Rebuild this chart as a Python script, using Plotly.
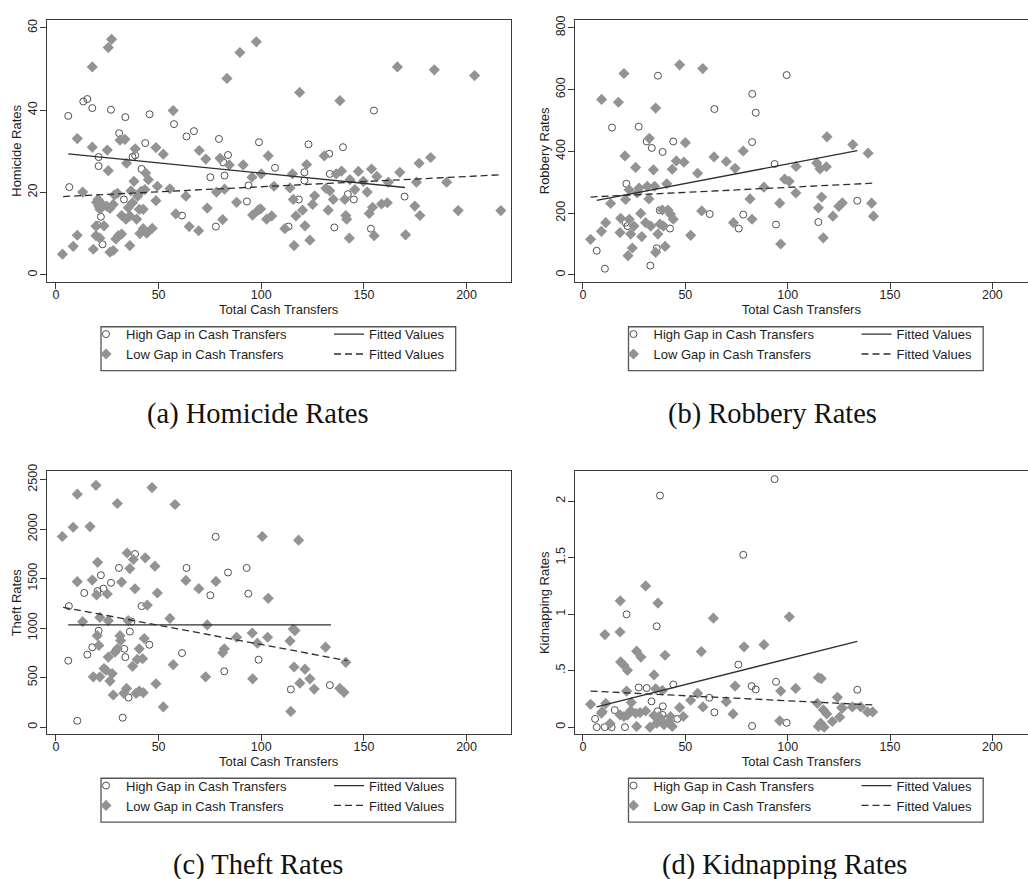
import plotly.graph_objects as go

W, H = 1028, 879

# ---------------- data ----------------
# (a) Homicide rates
hom_high_x = [6, 6.5, 13.3, 15.3, 17.7, 26.8, 33.8, 30.8, 20.8, 20.8,
              21.9, 20.3, 22.7, 33.1, 37.3, 38.6, 41.7, 43.5, 45.6, 57.5,
              63.6, 67.2, 61.4, 75.2, 79.4, 82.1, 83.8, 81.5, 77.9, 93,
              93.8, 98.9, 106.7, 113.3, 118.3, 121, 121, 123, 133.1, 133.4,
              135.6, 139.8, 142.2, 145.1, 154.9, 153.4, 169.8]
hom_high_y = [38.6, 21.3, 42.1, 42.7, 40.5, 40.1, 38.3, 34.4, 28.6, 26.4,
              14.1, 12.1, 7.4, 18.3, 28.6, 29.0, 25.7, 32.0, 39.0, 36.6,
              33.6, 34.9, 14.4, 23.7, 33.0, 24.1, 29.1, 27.3, 11.7, 17.8,
              21.7, 32.2, 26.0, 11.7, 18.3, 24.9, 22.9, 31.7, 29.4, 24.5,
              11.5, 31.0, 19.6, 18.3, 39.9, 11.2, 19.0]
hom_low_x = [3.2, 8.4, 10.4, 10.4, 13, 17.7, 17.7, 18.2, 19.8, 20.8,
             21.4, 19.5, 21.4, 23.4, 25, 25.5, 25.5, 27.1, 24.7, 26.3,
             27.9, 26.3, 27.9, 29.2, 30.4, 32, 31.2, 33.6, 32, 34.1,
             34.4, 35.2, 36, 36, 37.3, 38, 38.6, 39.3, 39.8, 40.6,
             40.9, 42.5, 42.5, 43.3, 43.7, 44.2, 45, 46.9, 48.7, 48.7,
             49.4, 52.3, 55.5, 57.1, 58.4, 63.3, 64.9, 69.5, 69.8, 73,
             73.7, 78.2, 79.9, 81.2, 82.1, 83.3, 84.4, 88, 89.6, 91.2,
             95.5, 95.8, 97.6, 98.5, 99.7, 100, 102.6, 103.4, 105.1, 106.2,
             111.5, 114, 115.2, 116, 116.9, 115.6, 118.7, 120.1, 121.3, 122.1,
             123.7, 125, 126, 130.7, 131.5, 132.6, 133.4, 135.1, 136.5, 138.3,
             139.1, 140.7, 141.2, 141.6, 142.9, 143.2, 145.6, 147.3, 149.7, 151.6,
             152.6, 153.7, 154.2, 155, 156.3, 158.6, 161.4, 161.9, 166.3, 167.5,
             170.3, 174.8, 175.6, 176.9, 177.3, 182.5, 184.3, 190.3, 195.9, 203.9,
             216.7, 20.5, 22, 28.5, 30, 36.5, 41.5, 19.5]
hom_low_y = [5.0, 6.9, 9.6, 33.1, 20.1, 50.5, 31.0, 6.2, 17.6, 16.7,
             15.9, 9.5, 8.9, 11.9, 30.3, 25.3, 55.2, 57.2, 16.7, 16.1,
             17.1, 5.5, 5.9, 8.7, 9.5, 9.9, 32.7, 32.9, 14.4, 13.5,
             27.1, 16.3, 7.1, 14.3, 17.5, 22.7, 30.6, 13.5, 19.1, 15.9,
             10.0, 11.2, 15.9, 20.7, 24.7, 10.1, 23.1, 11.3, 30.9, 18.0,
             21.5, 29.3, 20.9, 39.9, 14.8, 19.1, 11.7, 10.7, 30.2, 28.1,
             16.2, 20.1, 28.3, 13.4, 20.8, 47.7, 26.7, 17.6, 54.0, 26.7,
             23.7, 14.5, 56.6, 15.7, 16.0, 24.5, 13.5, 28.9, 14.3, 21.5,
             11.2, 21.1, 24.5, 7.1, 14.3, 18.3, 44.3, 15.7, 11.9, 26.8,
             8.4, 17.1, 19.2, 28.9, 21.0, 15.7, 20.4, 18.3, 24.5, 42.3,
             25.2, 18.3, 14.4, 13.5, 8.9, 23.1, 20.7, 25.1, 22.7, 20.1,
             14.9, 25.7, 16.4, 9.5, 23.9, 17.2, 17.5, 22.5, 50.5, 24.9,
             9.7, 16.7, 22.5, 27.1, 14.4, 28.5, 49.8, 22.5, 15.6, 48.4,
             15.6, 18.3, 17.4, 19.4, 19.8, 20.4, 20.3, 11.8]
hom_fit_high_x = [6, 170]
hom_fit_high_y = [29.4, 21.2]
hom_fit_low_x = [3.5, 217]
hom_fit_low_y = [19.0, 24.3]

# (b) Robbery rates
rob_high_x = [6.7, 10.7, 14.2, 21.2, 20.8, 21.7, 27.2, 31.1, 33.6, 32.9,
              36, 36.6, 37.5, 38.9, 42.5, 44.1, 61.9, 64.2, 76.1, 78.3,
              82.6, 82.7, 84.4, 93.6, 94.3, 99.5, 115, 134]
rob_high_y = [78, 20, 477, 295, 169, 158, 480, 432, 411, 30,
              86, 645, 209, 398, 150, 432, 197, 537, 150, 195,
              430, 586, 525, 359, 163, 647, 171, 240]
rob_low_x = [3.7, 9.1, 9, 11.1, 13.5, 17.3, 18.1, 18.4, 20, 20.5,
             20.8, 22, 22.5, 22.6, 23.3, 24.1, 24.9, 25.7, 26.5, 27.4,
             28.2, 28.7, 30.6, 31.4, 32.4, 32.2, 33.1, 34.4, 35, 35.5,
             35.5, 36.6, 37.6, 38.8, 39.3, 40.1, 40.9, 41.5, 42.8, 43.6,
             44.1, 45.6, 47.2, 49.3, 50, 52.6, 56, 58, 58.5, 64,
             70, 73.5, 74.3, 78.3, 81.6, 82.6, 88.4, 96.1, 96.6, 98.5,
             100.7, 104, 104.1, 114.2, 115, 115.8, 116.6, 117.4, 118.9, 119.2,
             122.1, 125, 126.7, 131.8, 139.3, 141, 141.9]
rob_low_y = [115, 568, 141, 169, 231, 559, 137, 183, 652, 385,
             244, 62, 276, 180, 132, 87, 158, 348, 265, 281,
             199, 124, 169, 287, 442, 246, 158, 340, 287, 540,
             73, 132, 164, 210, 158, 92, 295, 210, 196, 342,
             180, 369, 680, 365, 428, 128, 329, 207, 668, 382,
             367, 169, 345, 401, 246, 180, 284, 232, 100, 310,
             303, 265, 351, 362, 217, 343, 252, 120, 350, 447,
             190, 222, 233, 422, 394, 232, 190]
rob_fit_high_x = [6.7, 134]
rob_fit_high_y = [241, 402]
rob_fit_low_x = [3.7, 142]
rob_fit_low_y = [252, 297]

# (c) Theft rates
the_high_x = [6.3, 6, 13.8, 15.3, 17.7, 20.3, 20.8, 21.9, 23.1, 26.8,
              30.7, 33.3, 33.8, 36, 36.8, 38.5, 41.7, 45.5, 35.4, 10.4,
              32.5, 61.4, 63.6, 75.2, 77.8, 82, 83.8, 92.9, 93.7, 98.7,
              114.4, 133.4]
the_high_y = [1222, 671, 1355, 732, 806, 1375, 974, 1535, 1399, 1458,
              1608, 791, 707, 965, 1065, 1749, 1222, 832, 298, 64,
              95, 748, 1608, 1332, 1923, 564, 1562, 1608, 1348, 681,
              381, 424]
the_low_x = [3.1, 8.4, 10.4, 10.4, 13, 16.6, 17.7, 18.2, 19.5, 19.8,
             20.3, 20.1, 20.9, 21.4, 21.4, 23.4, 24.4, 25, 25.5, 25.5,
             26.3, 27.4, 27.9, 28.7, 29.9, 29.9, 31.2, 31.5, 32, 33.1,
             34.4, 34.7, 35.2, 36, 37.3, 37.7, 38.5, 39, 39.6, 40.6,
             40.6, 42.2, 42.5, 43, 43.5, 44.5, 46.8, 48.2, 48.7, 49.4,
             52.3, 55.5, 57.1, 58, 63.3, 69.6, 72.9, 73.7, 77.9, 81.2,
             82, 88, 95.6, 95.8, 98.1, 100.5, 103.1, 103.4, 114, 114.4,
             115.6, 116.4, 116, 118.2, 118.8, 121.3, 123.7, 125.8, 131.3, 138.3,
             140.3, 141.2]
the_low_y = [1926, 2019, 2353, 1469, 1065, 2026, 1485, 508, 2443, 1335,
             1665, 924, 825, 508, 1108, 592, 575, 1345, 1075, 707,
             465, 541, 324, 757, 2259, 791, 924, 874, 1465, 341,
             391, 1759, 1075, 1602, 614, 1693, 1398, 341, 684, 791,
             364, 691, 348, 895, 1710, 1232, 2420, 1626, 438, 1355,
             204, 1098, 631, 2249, 1482, 1399, 508, 1032, 1472, 751,
             791, 908, 951, 488, 848, 1926, 908, 1301, 871, 158,
             991, 975, 607, 1889, 444, 585, 488, 384, 808, 391,
             351, 654]
the_fit_high_x = [6, 134]
the_fit_high_y = [1032, 1032]
the_fit_low_x = [3.5, 142]
the_fit_low_y = [1210, 671]

# (d) Kidnapping rates
kid_high_x = [37.6, 93.6, 78.3, 21.3, 36, 75.9, 27.2, 31.1, 44.1, 82.4,
              84.4, 94.3, 134, 33.5, 39, 61.7, 64.2, 15.5, 36.4, 5.9,
              6.7, 10.6, 14, 20.5, 46.1, 82.6, 99.5, 38.9, 40.4]
kid_high_y = [2.05, 2.195, 1.525, 0.998, 0.893, 0.553, 0.351, 0.346, 0.378, 0.363,
              0.334, 0.401, 0.331, 0.228, 0.184, 0.26, 0.131, 0.151, 0.14, 0.073,
              0.0, 0.0, 0.0, 0.0, 0.073, 0.01, 0.038, 0.108, 0.07]
kid_low_x = [3.7, 9, 10.7, 11.1, 18.2, 18.1, 18.4, 20, 21.7, 21.3,
             23.6, 26.2, 28.3, 30.6, 34.7, 35.5, 36.6, 38.8, 40.1, 47.2,
             52.6, 56, 57.8, 58.6, 63.7, 70, 73.3, 74.3, 78.7, 88.4,
             96.6, 100.8, 103.9, 115, 116.4, 114.5, 117.4, 119.1, 124.3, 126.4,
             131.6, 135.7, 139, 141.5, 9.4, 13.2, 18.1, 20, 21.7, 23.3,
             25.7, 26.2, 27.9, 30.6, 32.7, 34.7, 36, 37.1, 38.8, 39.6,
             42, 42.8, 43.6, 49, 96.1, 115, 116.1, 117.8, 121.8, 125.4,
             126.7]
kid_low_y = [0.202, 0.123, 0.819, 0.21, 1.118, 0.842, 0.577, 0.548, 0.503, 0.319,
             0.219, 0.672, 0.62, 1.25, 0.462, 0.339, 1.098, 0.325, 0.636, 0.173,
             0.238, 0.299, 0.669, 0.179, 0.964, 0.225, 0.117, 0.363, 0.711, 0.73,
             0.319, 0.976, 0.343, 0.439, 0.43, 0.211, 0.154, 0.117, 0.264, 0.173,
             0.179, 0.179, 0.135, 0.135, 0.137, 0.032, 0.108, 0.094, 0.108, 0.146,
             0.123, 0.006, 0.129, 0.143, 0.0, 0.102, 0.035, 0.094, 0.05, 0.021,
             0.05, 0.094, 0.006, 0.094, 0.056, 0.006, 0.035, 0.0, 0.05, 0.088,
             0.167]
kid_fit_high_x = [6.7, 134]
kid_fit_high_y = [0.18, 0.76]
kid_fit_low_x = [3.7, 142.2]
kid_fit_low_y = [0.319, 0.196]

x_ticks = [0, 50, 100, 150, 200]
hom_ticks = [0, 20, 40, 60]
rob_ticks = [0, 200, 400, 600, 800]
the_ticks = [0, 500, 1000, 1500, 2000, 2500]
kid_ticks = [0, 0.5, 1, 1.5, 2]
kid_tick_text = ["0", ".5", "1", "1.5", "2"]

x_title = "Total Cash Transfers"
high_label = "High Gap in Cash Transfers"
low_label = "Low Gap in Cash Transfers"
fit_label = "Fitted Values"
captions = ["(a) Homicide Rates", "(b) Robbery Rates", "(c) Theft Rates", "(d) Kidnapping Rates"]

# ---------------- styling / layout helpers ----------------
SANS = "Liberation Sans, Arial, Helvetica, sans-serif"
SERIF = "Liberation Serif, Times New Roman, serif"
TXT = "#1e1e1e"
AX = "#3a3a3a"
CIRC = "#505050"
DIAM = "#939393"
FIT = "#2e2e2e"


def px_x(p):
    return p / W


def px_y(p):
    return 1 - p / H


panels = [
    dict(hx=hom_high_x, hy=hom_high_y, lx=hom_low_x, ly=hom_low_y,
         fhx=hom_fit_high_x, fhy=hom_fit_high_y, flx=hom_fit_low_x, fly=hom_fit_low_y,
         ytitle="Homicide Rates", yticks=hom_ticks, yticktext=None, yrange=[-1.8, 62],
         xrange=[-4.5, 221.5], dom_x=[46.7, 510.7], dom_y=[11.7, 276.7], cap_x=257.5, cap_y=409.5),
    dict(hx=rob_high_x, hy=rob_high_y, lx=rob_low_x, ly=rob_low_y,
         fhx=rob_fit_high_x, fhy=rob_fit_high_y, flx=rob_fit_low_x, fly=rob_fit_low_y,
         ytitle="Robbery Rates", yticks=rob_ticks, yticktext=None, yrange=[-23.7, 826.6],
         xrange=[-4.05, 217.4], dom_x=[574.7, 1028], dom_y=[11.7, 276.7], cap_x=772, cap_y=409.5),
    dict(hx=the_high_x, hy=the_high_y, lx=the_low_x, ly=the_low_y,
         fhx=the_fit_high_x, fhy=the_fit_high_y, flx=the_fit_low_x, fly=the_fit_low_y,
         ytitle="Theft Rates", yticks=the_ticks, yticktext=None, yrange=[-70, 2583],
         xrange=[-4.5, 221.5], dom_x=[46.7, 510.7], dom_y=[467.7, 732.7], cap_x=257.5, cap_y=865),
    dict(hx=kid_high_x, hy=kid_high_y, lx=kid_low_x, ly=kid_low_y,
         fhx=kid_fit_high_x, fhy=kid_fit_high_y, flx=kid_fit_low_x, fly=kid_fit_low_y,
         ytitle="Kidnapping Rates", yticks=kid_ticks, yticktext=kid_tick_text, yrange=[-0.061, 2.263],
         xrange=[-4.05, 217.4], dom_x=[574.7, 1028], dom_y=[467.7, 732.7], cap_x=784, cap_y=865),
]

fig = go.Figure()
layout = dict(
    width=W, height=H,
    margin=dict(l=0, r=0, t=0, b=0),
    paper_bgcolor="white", plot_bgcolor="white",
    showlegend=True,
    font=dict(family=SANS, color=TXT, size=13),
    shapes=[], annotations=[],
)

for i, p in enumerate(panels):
    n = i + 1
    xa = "x" if n == 1 else f"x{n}"
    ya = "y" if n == 1 else f"y{n}"
    leg_s = "legend" if n == 1 else f"legend{2 * n - 1}"
    leg_f = f"legend{2 * n}"

    fig.add_trace(go.Scatter(
        x=p["hx"], y=p["hy"], mode="markers", name=high_label,
        marker=dict(symbol="circle-open", size=7, color=CIRC, line=dict(width=1, color=CIRC)),
        xaxis=xa, yaxis=ya, legend=leg_s))
    fig.add_trace(go.Scatter(
        x=p["lx"], y=p["ly"], mode="markers", name=low_label,
        marker=dict(symbol="diamond", size=8.6, color=DIAM, line=dict(width=0)),
        xaxis=xa, yaxis=ya, legend=leg_s))
    fig.add_trace(go.Scatter(
        x=p["fhx"], y=p["fhy"], mode="lines", name=fit_label,
        line=dict(color=FIT, width=1.3),
        xaxis=xa, yaxis=ya, legend=leg_f))
    fig.add_trace(go.Scatter(
        x=p["flx"], y=p["fly"], mode="lines", name=fit_label,
        line=dict(color=FIT, width=1.3, dash="7px,4px"),
        xaxis=xa, yaxis=ya, legend=leg_f))

    xkey = "xaxis" if n == 1 else f"xaxis{n}"
    ykey = "yaxis" if n == 1 else f"yaxis{n}"
    right_col = n in (2, 4)
    layout[xkey] = dict(
        domain=[px_x(p["dom_x"][0]), px_x(p["dom_x"][1])],
        range=p["xrange"], anchor=ya,
        tickvals=x_ticks, ticks="outside", ticklen=6, tickwidth=1.2, tickcolor=AX,
        ticklabelstandoff=-5,
        tickfont=dict(family=SANS, size=12.5, color=TXT),
        showline=True, linecolor=AX, linewidth=1.4, mirror=True,
        showgrid=False, zeroline=False,
        title=dict(text=x_title, font=dict(family=SANS, size=13, color=TXT), standoff=0),
    )
    ydict = dict(
        domain=[px_y(p["dom_y"][1]), px_y(p["dom_y"][0])],
        range=p["yrange"], anchor=xa,
        tickvals=p["yticks"], ticks="outside", ticklen=6, tickwidth=1.2, tickcolor=AX,
        tickangle=-90, ticklabelstandoff=-2,
        tickfont=dict(family=SANS, size=12.5, color=TXT),
        showline=True, linecolor=AX, linewidth=1.4, mirror=not right_col,
        showgrid=False, zeroline=False,
        title=dict(text=p["ytitle"], font=dict(family=SANS, size=13, color=TXT), standoff=0),
    )
    if p["yticktext"] is not None:
        ydict["ticktext"] = p["yticktext"]
    layout[ykey] = ydict

    # legend positions (pixels)
    dx = 0 if not right_col else 527.5
    dy = 0 if n in (1, 2) else 455.6
    box_l, box_r = 101 + dx, 455.7 + dx
    box_t, box_b = 321.7 + dy, 366 + dy
    layout["shapes"].append(dict(
        type="rect", xref="paper", yref="paper",
        x0=px_x(box_l), x1=px_x(box_r), y0=px_y(box_b), y1=px_y(box_t),
        line=dict(color="#555555", width=1.3), fillcolor="rgba(0,0,0,0)", layer="below"))
    leg_common = dict(
        orientation="v", xanchor="left", yanchor="top",
        bgcolor="rgba(0,0,0,0)", borderwidth=0,
        font=dict(family=SANS, size=13, color=TXT),
        tracegroupgap=0, itemwidth=30,
    )
    layout[leg_s] = dict(leg_common, x=px_x(86 + dx), y=px_y(314 + dy))
    layout[leg_f] = dict(leg_common, x=px_x(329 + dx), y=px_y(314 + dy))

    layout["annotations"].append(dict(
        text=captions[i], xref="paper", yref="paper",
        x=px_x(p["cap_x"]), y=px_y(p["cap_y"]), xanchor="center", yanchor="middle",
        showarrow=False, font=dict(family=SERIF, size=28.5, color="#111111")))

fig.update_layout(**layout)
fig.write_html("out.html")
